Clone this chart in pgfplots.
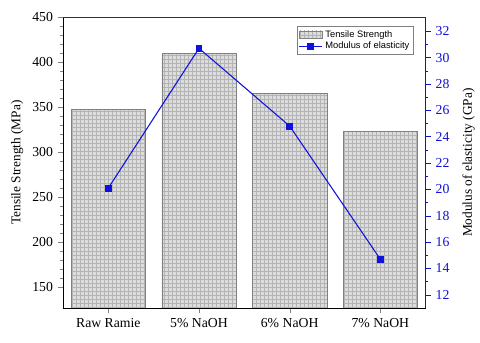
\documentclass[border=0pt]{standalone}
\usepackage{pgfplots}
\pgfplotsset{compat=1.18}
\usepackage{fontspec}
\setmainfont{Liberation Serif}
\newfontfamily\legfont{Liberation Sans}
\usetikzlibrary{patterns}
\definecolor{barfill}{HTML}{DCDCDC}
\definecolor{bargrid}{HTML}{B4B4B4}
\definecolor{modblue}{HTML}{1010E0}

\pgfplotstableread{
x ts mod
0 348 20.1
1 410 30.7
2 365 24.8
3 323 14.7
}\datatable

\begin{document}
\begin{tikzpicture}
\pgfplotsset{
  common/.style={
    scale only axis, width=272pt, height=218pt,
    xmin=-0.5, xmax=3.5,
    xtick={0,1,2,3},
    xticklabels={Raw Ramie,5\% NaOH,6\% NaOH,7\% NaOH},
    tick align=outside,
    /pgf/number format/assume math mode=true,
    tick label style={font=\fontsize{10.3}{11}\selectfont},
    label style={font=\fontsize{10}{11}\selectfont},
    major tick length=4pt, minor tick length=2pt,
  }
}
\begin{axis}[common,
  axis y line*=left, axis x line*=bottom,
  ymin=126.7, ymax=450,
  ytick={150,200,250,300,350,400,450},
  minor y tick num=4,
  ylabel={Tensile Strength (MPa)},
  ylabel style={yshift=0pt},
  xtick pos=bottom,
]
\addplot[ybar, bar width=0.82, draw=black!50, fill=barfill,
  postaction={pattern=grid, pattern color=bargrid}]
  table[x=x,y=ts]{\datatable};
\end{axis}
\begin{axis}[common,
  axis y line*=right, axis x line=none,
  ymin=11, ymax=33.05,
  ytick={12,14,...,32},
  minor y tick num=1,
  y axis line style={modblue, line width=0.8pt},
  y tick style={modblue},
  yticklabel style={text=modblue},
  ylabel={Modulus of elasticity (GPa)},
  ylabel style={yshift=-3pt},
  legend style={at={(rel axis cs:0.967,0.97)}, anchor=north east,
    font=\legfont\fontsize{7}{8}\selectfont, draw=black!50,
    inner sep=1pt, row sep=-2pt},
  legend cell align=left,
]
\addlegendimage{area legend, draw=black!50, fill=barfill,
  postaction={pattern=grid, pattern color=bargrid}}
\addlegendentry{Tensile Strength}
\addplot[modblue, line width=0.8pt, mark=square*, mark size=2.2pt]
  table[x=x,y=mod]{\datatable};
\addlegendentry{Modulus of elasticity}
\end{axis}
\draw[black!80, line width=0.6pt] (0,218pt) -- (272pt,218pt);
\pgfresetboundingbox
\path (-47.25pt,-26.25pt) rectangle (312.75pt,231pt);
\end{tikzpicture}
\end{document}
